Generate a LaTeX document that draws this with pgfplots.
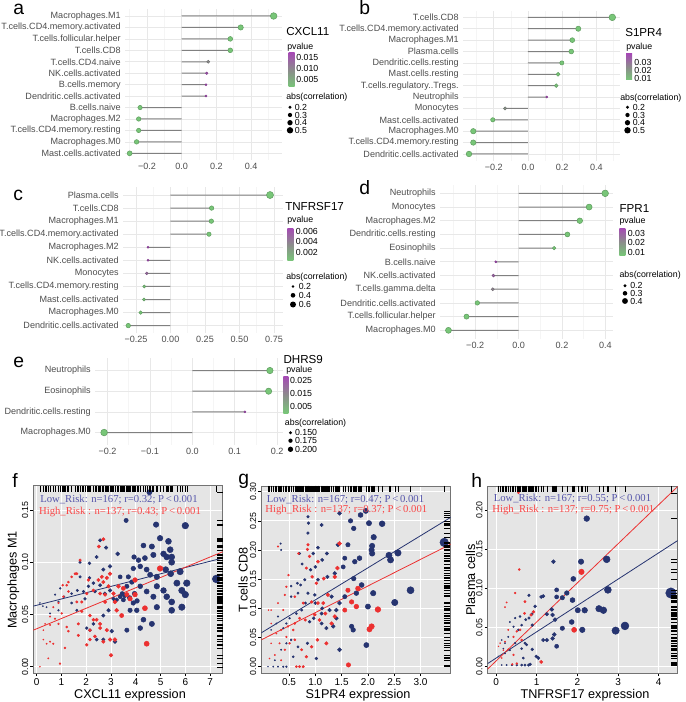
\documentclass[border=0pt]{standalone}
\usepackage{pgfplots}
\pgfplotsset{compat=1.18}
\usepackage{pgfplotstable}
\usepackage{fontspec}
\setmainfont{Liberation Sans}
\newfontfamily\tnr{Liberation Serif}

\definecolor{pgreen}{RGB}{120,198,120}
\definecolor{pgrey}{RGB}{140,140,140}
\definecolor{ppurple}{RGB}{165,75,180}
\definecolor{dnavy}{RGB}{38,52,112}
\definecolor{dred}{RGB}{236,48,48}
\definecolor{tblue}{RGB}{85,85,170}
\definecolor{tred}{RGB}{250,70,70}
\definecolor{labgrey}{RGB}{77,77,77}
\definecolor{panelbg}{RGB}{229,229,229}

\newcommand{\lab}{\fontsize{6.8}{7.5}\selectfont}
\newcommand{\leg}{\fontsize{6.6}{7}\selectfont}
\newcommand{\gene}{\fontsize{8.7}{9}\selectfont}
\newcommand{\letf}{\fontsize{14.5}{15}\selectfont}
\newcommand{\axf}{\fontsize{9.5}{10}\selectfont}
\newcommand{\anf}{\tnr\fontsize{8}{9}\selectfont}

% lollipop tables: v = correlation, y = row (bottom = 1), c = colour (0 green .. 1 purple), s = dot radius (pt)
\pgfplotstableread{
v y c s
-0.300 1 0 1.85
-0.260 2 0 1.71
-0.248 3 0 1.66
-0.248 4 0 1.66
-0.240 5 0 1.62
0.140 6 1 0.75
0.140 7 1 0.75
0.144 8 0.95 0.92
0.153 9 0.5 1.06
0.280 10 0 1.78
0.280 11 0 1.78
0.340 12 0 1.99
0.530 13 0 2.48
}\tA
\pgfplotstableread{
v y c s
-0.345 1 0 2.10
-0.320 2 0 2.02
-0.320 3 0 2.02
-0.206 4 0 1.61
-0.134 5 0.45 1.18
0.110 6 1 0.75
0.165 7 0.05 1.40
0.176 8 0 1.46
0.198 9 0 1.57
0.253 10 0 1.80
0.259 11 0 1.82
0.294 12 0 1.94
0.493 13 0 2.48
}\tB
\pgfplotstableread{
v y c s
-0.306 1 0 1.70
-0.216 2 0 1.33
-0.192 3 0.05 1.17
-0.190 4 0.05 1.16
-0.172 5 0.75 0.99
-0.163 6 1 0.75
-0.163 7 1 0.75
0.279 8 0 1.61
0.296 9 0 1.67
0.298 10 0 1.67
0.721 11 0 2.63
}\tC
\pgfplotstableread{
v y c s
-0.323 1 0 2.24
-0.240 2 0 1.92
-0.190 3 0 1.68
-0.119 4 0.55 1.10
-0.116 5 0.8 1.08
-0.105 6 1 0.75
0.164 7 0 1.30
0.225 8 0 1.85
0.282 9 0 2.09
0.325 10 0 2.24
0.399 11 0 2.48
}\tD
\pgfplotstableread{
v y c s
-0.208 1 0 2.50
0.124 2 1 0.75
0.180 3 0 2.35
0.183 4 0 2.40
}\tE

% scatter tables
\pgfplotstableread{
x y
4.55 0.167
3.61 0.140
4.82 0.136
6.00 0.135
2.56 0.121
2.80 0.114
3.27 0.108
4.31 0.116
4.65 0.115
4.98 0.123
5.32 0.120
5.39 0.112
3.93 0.105
4.11 0.102
4.37 0.104
4.71 0.107
5.12 0.108
5.25 0.105
5.45 0.105
5.45 0.100
1.75 0.100
2.13 0.099
2.42 0.105
2.69 0.093
2.96 0.096
3.37 0.086
3.70 0.086
3.90 0.094
4.18 0.096
4.44 0.093
4.58 0.088
4.85 0.086
5.21 0.093
5.41 0.089
5.79 0.091
5.66 0.080
6.06 0.080
5.86 0.073
6.00 0.069
7.25 0.084
4.85 0.077
5.12 0.073
5.25 0.067
4.71 0.067
4.44 0.072
4.18 0.077
3.84 0.081
3.64 0.077
3.37 0.067
3.50 0.064
3.23 0.064
3.10 0.065
2.96 0.073
2.56 0.078
2.29 0.080
2.09 0.077
1.89 0.072
1.64 0.073
1.41 0.070
1.10 0.067
0.74 0.069
0.88 0.062
1.41 0.061
1.62 0.054
0.88 0.054
3.90 0.061
3.77 0.054
4.04 0.054
4.31 0.045
4.65 0.041
4.18 0.037
3.64 0.035
3.03 0.034
3.16 0.024
2.42 0.026
2.69 0.026
2.29 0.041
2.02 0.037
2.15 0.035
2.69 0.049
2.90 0.054
4.85 0.057
5.45 0.054
5.45 0.062
5.86 0.057
0.40 0.057
0.54 0.051
0.13 0.061
1.75 0.086
2.13 0.085
3.45 0.070
3.55 0.068
3.75 0.066
3.95 0.070
4.05 0.063
2.75 0.070
2.35 0.072
1.95 0.065
0.95 0.075
0.25 0.058
}\fB
\pgfplotstableread{
x y
2.69 0.122
2.51 0.115
1.75 0.102
2.09 0.083
1.62 0.089
2.63 0.086
2.49 0.083
2.69 0.081
2.83 0.085
2.96 0.089
2.90 0.077
2.29 0.073
2.56 0.070
2.76 0.069
3.10 0.070
3.30 0.077
3.16 0.062
2.76 0.062
2.02 0.070
1.82 0.062
1.62 0.062
1.28 0.072
1.21 0.078
1.05 0.078
1.28 0.081
1.41 0.086
1.55 0.089
1.08 0.067
0.88 0.061
0.67 0.057
1.01 0.051
0.74 0.046
0.54 0.048
0.34 0.041
0.27 0.035
0.27 0.026
0.54 0.024
0.67 0.022
0.47 0.008
0.13 0.000
0.94 0.003
1.14 0.018
1.21 0.038
1.28 0.034
1.68 0.030
1.68 0.041
1.82 0.053
2.15 0.049
2.29 0.045
2.42 0.045
2.56 0.041
2.15 0.035
2.35 0.029
2.56 0.037
2.83 0.035
2.96 0.026
2.69 0.024
3.16 0.026
3.00 0.011
2.15 0.026
2.02 0.021
4.44 0.022
4.37 0.056
3.97 0.069
3.77 0.065
3.64 0.069
3.50 0.075
4.98 0.094
3.97 0.083
3.23 0.054
3.43 0.049
0.54 0.040
0.88 0.041
0.40 0.022
}\fR
\pgfplotstableread{
x y
1.96 0.267
1.86 0.260
1.46 0.263
1.67 0.250
2.02 0.246
2.27 0.245
1.73 0.237
1.12 0.243
0.87 0.246
0.86 0.229
2.11 0.222
3.45 0.213
2.08 0.207
1.62 0.209
1.43 0.209
1.05 0.204
1.22 0.194
0.96 0.194
1.13 0.183
1.00 0.171
0.91 0.166
0.75 0.176
0.70 0.194
1.56 0.186
1.84 0.186
1.75 0.180
1.53 0.171
1.37 0.160
1.23 0.154
1.05 0.149
0.80 0.149
0.66 0.143
2.07 0.200
2.08 0.194
2.40 0.191
2.43 0.183
2.57 0.195
1.73 0.151
1.88 0.140
1.78 0.126
2.10 0.126
2.81 0.131
2.51 0.110
2.00 0.103
1.56 0.120
1.46 0.109
1.31 0.120
0.99 0.123
0.86 0.126
0.72 0.140
0.67 0.126
0.54 0.120
1.13 0.100
1.27 0.097
1.40 0.097
1.12 0.091
1.00 0.109
0.81 0.109
0.74 0.097
0.64 0.091
0.51 0.083
0.45 0.074
0.39 0.066
0.26 0.074
0.16 0.063
0.29 0.086
1.12 0.074
1.21 0.066
1.34 0.069
1.40 0.083
1.69 0.069
1.72 0.063
1.46 0.029
1.97 0.037
1.02 0.014
0.85 0.040
0.67 0.034
0.54 0.046
0.45 0.040
0.58 0.017
0.39 0.000
0.29 0.000
0.20 0.000
0.10 0.000
0.45 0.000
0.23 0.011
0.35 0.029
0.89 0.077
0.97 0.083
0.35 0.200
0.34 0.211
0.54 0.138
0.86 0.257
}\gB
\pgfplotstableread{
x y
0.86 0.209
1.46 0.211
0.85 0.201
0.68 0.194
0.89 0.189
1.05 0.180
0.49 0.157
0.83 0.169
0.94 0.154
1.16 0.151
1.02 0.143
1.37 0.154
1.42 0.169
1.62 0.131
1.81 0.134
1.69 0.111
1.56 0.097
1.78 0.103
2.19 0.098
2.07 0.069
2.03 0.064
1.63 0.003
1.24 0.123
1.15 0.109
1.05 0.109
0.93 0.111
0.77 0.109
0.61 0.120
0.45 0.137
0.42 0.123
0.39 0.097
0.29 0.109
0.16 0.097
0.16 0.074
0.26 0.057
0.35 0.063
0.48 0.069
0.61 0.074
0.70 0.083
0.81 0.080
0.99 0.089
1.08 0.080
1.19 0.091
1.37 0.086
1.31 0.074
1.21 0.040
1.04 0.046
0.93 0.034
0.83 0.017
0.74 0.029
0.64 0.000
0.70 0.000
0.77 0.000
0.61 0.046
0.51 0.040
0.42 0.029
0.32 0.040
0.23 0.020
0.13 0.014
0.35 0.011
0.45 0.051
0.58 0.063
0.16 0.040
0.29 0.206
0.11 0.097
}\gR
\pgfplotstableread{
x y
2.23 0.189
1.41 0.134
2.09 0.134
2.72 0.137
1.90 0.112
2.75 0.098
4.30 0.094
1.49 0.098
1.49 0.089
1.74 0.094
1.63 0.088
1.88 0.085
0.81 0.091
1.11 0.089
1.16 0.090
0.96 0.077
2.01 0.072
2.18 0.072
2.53 0.074
2.64 0.072
1.37 0.073
1.39 0.066
1.45 0.060
1.25 0.067
0.88 0.067
0.81 0.062
0.73 0.060
0.59 0.064
0.47 0.062
0.34 0.057
0.43 0.051
0.63 0.053
0.89 0.053
1.63 0.049
1.86 0.057
2.12 0.047
2.94 0.046
3.17 0.052
1.39 0.036
1.43 0.041
1.49 0.026
1.25 0.034
1.16 0.034
0.89 0.022
0.99 0.013
1.04 0.011
0.71 0.030
0.63 0.023
0.47 0.030
0.34 0.021
0.22 0.030
0.22 0.017
0.18 0.023
0.14 0.034
0.30 0.038
0.06 0.013
0.55 0.047
0.14 0.002
0.26 0.002
0.39 0.002
0.51 0.002
0.63 0.002
0.71 0.002
0.80 0.002
0.84 0.003
0.67 0.011
0.75 0.028
}\hB
\pgfplotstableread{
x y
2.10 0.121
0.57 0.124
0.47 0.094
0.26 0.082
0.22 0.076
0.71 0.083
0.92 0.070
0.86 0.066
0.70 0.068
0.59 0.047
0.51 0.045
0.43 0.038
0.30 0.047
0.22 0.032
0.10 0.030
0.18 0.021
0.30 0.022
0.43 0.015
0.51 0.004
0.40 0.003
0.63 0.034
1.92 0.047
1.11 0.006
0.55 0.222
0.06 0.026
0.14 0.011
}\hR

\pgfplotsset{
  lolli/.style={
    scale only axis, anchor=south west,
    axis line style={draw=none},
    major tick length=0pt, minor tick length=0pt,
    grid=both,
    major grid style={draw=black!9, line width=0.55pt},
    minor grid style={draw=black!4, line width=0.45pt},
    tick label style={font=\lab, text=labgrey},
    yticklabel style={inner sep=1pt, xshift=-2pt},
    xticklabel style={inner sep=2.2pt},
    colormap={pv}{rgb255=(120,198,120) rgb255=(140,140,140) rgb255=(165,75,180)},
    point meta min=0, point meta max=1,
  },
  stem/.style={xbar, bar width=0.75pt, fill=black!50, draw=none},
  dots/.style={scatter, only marks, mark=*, point meta=\thisrow{c},
    visualization depends on={\thisrow{s} \as \ms},
    scatter/@pre marker code/.append style={/tikz/mark size=\ms}},
  scat/.style={
    scale only axis, anchor=south west,
    axis background/.style={fill=panelbg},
    grid=major, major grid style={draw=white, line width=0.7pt},
    tick align=outside, tick pos=left,
    major tick length=2.2pt,
    tick style={black, line width=0.4pt},
    axis line style={draw=black!55, line width=0.4pt},
    xticklabel style={font=\fontsize{7.5}{8}\selectfont, inner sep=1.5pt},
    yticklabel style={font=\fontsize{6.6}{7}\selectfont, rotate=90, anchor=south, inner sep=1.5pt},
  },
  pts/.style={scatter, only marks, mark=*, scatter/use mapped color={draw=#1, fill=#1},
    visualization depends on={\thisrow{x} \as \xv}},
  rug/.style={only marks, mark=#1, mark size=2.25pt, black, mark options={line width=0.25pt}},
}

\begin{document}
\begin{tikzpicture}
\useasboundingbox (0,0) rectangle (513.75pt,-526.5pt);

% ---- a: CXCL11
\begin{axis}[lolli, at={(93.75pt,-120.15pt)}, width=117.75pt, height=113.3pt,
  xmin=-0.3268, xmax=0.5781, ymin=0.4, ymax=13.6,
  xtick={-0.2,0,0.2,0.4}, xticklabels={−0.2,0.0,0.2,0.4},
  minor xtick={-0.3,-0.1,0.1,0.3,0.5},
  ytick={1,...,13},
  yticklabels={Mast.cells.activated,Macrophages.M0,T.cells.CD4.memory.resting,Macrophages.M2,B.cells.naive,Dendritic.cells.activated,B.cells.memory,NK.cells.activated,T.cells.CD4.naive,T.cells.CD8,T.cells.follicular.helper,T.cells.CD4.memory.activated,Macrophages.M1}]
\addplot[stem] table[x=v,y=y]{\tA};
\addplot[dots] table[x=v,y=y]{\tA};
\end{axis}

% ---- b: S1PR4
\begin{axis}[lolli, at={(347.25pt,-120.6pt)}, width=117.75pt, height=112.7pt,
  xmin=-0.380, xmax=0.538, ymin=0.4, ymax=13.6,
  xtick={-0.2,0,0.2,0.4}, xticklabels={−0.2,0.0,0.2,0.4},
  minor xtick={-0.3,-0.1,0.1,0.3,0.5},
  ytick={1,...,13},
  yticklabels={Dendritic.cells.activated,T.cells.CD4.memory.resting,Macrophages.M0,Mast.cells.activated,Monocytes,Neutrophils,T.cells.regulatory..Tregs.,Mast.cells.resting,Dendritic.cells.resting,Plasma.cells,Macrophages.M1,T.cells.CD4.memory.activated,T.cells.CD8}]
\addplot[stem] table[x=v,y=y]{\tB};
\addplot[dots] table[x=v,y=y]{\tB};
\end{axis}

% ---- c: TNFRSF17
\begin{axis}[lolli, at={(92.25pt,-250.1pt)}, width=120pt, height=109.7pt,
  xmin=-0.344, xmax=0.815, ymin=0.4, ymax=11.6,
  xtick={-0.25,0,0.25,0.5,0.75}, xticklabels={−0.25,0.00,0.25,0.50,0.75},
  minor xtick={-0.125,0.125,0.375,0.625},
  ytick={1,...,11},
  yticklabels={Dendritic.cells.activated,Macrophages.M0,Mast.cells.activated,T.cells.CD4.memory.resting,Monocytes,NK.cells.activated,Macrophages.M2,T.cells.CD4.memory.activated,Macrophages.M1,T.cells.CD8,Plasma.cells}]
\addplot[stem] table[x=v,y=y]{\tC};
\addplot[dots] table[x=v,y=y]{\tC};
\end{axis}

% ---- d: FPR1
\begin{axis}[lolli, at={(330pt,-253.9pt)}, width=129.75pt, height=115.05pt,
  xmin=-0.362, xmax=0.435, ymin=0.4, ymax=11.6,
  xtick={-0.2,0,0.2,0.4}, xticklabels={−0.2,0.0,0.2,0.4},
  minor xtick={-0.3,-0.1,0.1,0.3},
  ytick={1,...,11},
  yticklabels={Macrophages.M0,T.cells.follicular.helper,Dendritic.cells.activated,T.cells.gamma.delta,NK.cells.activated,B.cells.naive,Eosinophils,Dendritic.cells.resting,Macrophages.M2,Monocytes,Neutrophils}]
\addplot[stem] table[x=v,y=y]{\tD};
\addplot[dots] table[x=v,y=y]{\tD};
\end{axis}

% ---- e: DHRS9
\begin{axis}[lolli, at={(71.25pt,-333.7pt)}, width=141pt, height=65.1pt,
  xmin=-0.2295, xmax=0.2139, ymin=0.4, ymax=4.6,
  xtick={-0.2,-0.1,0,0.1,0.2}, xticklabels={−0.2,−0.1,0.0,0.1,0.2},
  minor xtick={-0.15,-0.05,0.05,0.15},
  ytick={1,...,4},
  yticklabels={Macrophages.M0,Dendritic.cells.resting,Eosinophils,Neutrophils}]
\addplot[stem] table[x=v,y=y]{\tE};
\addplot[dots] table[x=v,y=y]{\tE};
\end{axis}

% ---- f: CXCL11 vs Macrophages M1
\begin{axis}[scat, at={(24.98pt,-504.98pt)}, width=142.05pt, height=141.23pt,
  xmin=-0.137, xmax=7.51, ymin=-0.0063, ymax=0.1739,
  xtick={0,1,...,7}, xticklabels={0,1,2,3,4,5,6,7},
  ytick={0,0.05,0.1,0.15}, yticklabels={0.00,0.05,0.10,0.15}]
\addplot[pts=dnavy, scatter/@pre marker code/.append style={/tikz/mark size={0.3+0.36*\xv}}] table{\fB};
\addplot[pts=dred, scatter/@pre marker code/.append style={/tikz/mark size={0.3+0.36*\xv}}] table{\fR};
\addplot[dnavy, line width=0.6pt] coordinates {(-0.137,0.058) (7.51,0.104)};
\addplot[dred, line width=0.6pt] coordinates {(-0.137,0.035) (7.51,0.110)};
\addplot[rug=|] table[x=x, y expr=0.1701]{\fB};
\addplot[rug=|] table[x=x, y expr=0.1701]{\fR};
\addplot[rug=-] table[x expr=7.383, y=y]{\fB};
\addplot[rug=-] table[x expr=7.383, y=y]{\fR};
\end{axis}

% ---- g: S1PR4 vs T cells CD8
\begin{axis}[scat, at={(195.98pt,-504.98pt)}, width=142.05pt, height=140.48pt,
  xmin=-0.027, xmax=3.574, ymin=-0.0114, ymax=0.3097,
  xtick={0.5,1,1.5,2,2.5,3}, xticklabels={0.5,1.0,1.5,2.0,2.5,3.0},
  ytick={0,0.05,0.1,0.15,0.2,0.25,0.3}, yticklabels={0.00,0.05,0.10,0.15,0.20,0.25,0.30}]
\addplot[pts=dnavy, scatter/@pre marker code/.append style={/tikz/mark size={0.25+0.85*\xv}}] table{\gB};
\addplot[pts=dred, scatter/@pre marker code/.append style={/tikz/mark size={0.25+0.85*\xv}}] table{\gR};
\addplot[dnavy, line width=0.6pt] coordinates {(-0.027,0.058) (3.574,0.256)};
\addplot[dred, line width=0.6pt] coordinates {(-0.027,0.046) (3.574,0.210)};
\addplot[rug=|] table[x=x, y expr=0.3046]{\gB};
\addplot[rug=|] table[x=x, y expr=0.3046]{\gR};
\addplot[rug=-] table[x expr=3.498, y=y]{\gB};
\addplot[rug=-] table[x expr=3.498, y=y]{\gR};
\end{axis}

% ---- h: TNFRSF17 vs Plasma cells
\begin{axis}[scat, at={(365.78pt,-504.98pt)}, width=142.5pt, height=140.48pt,
  xmin=-0.205, xmax=4.467, ymin=-0.0085, ymax=0.2306,
  xtick={0,1,2,3,4}, xticklabels={0,1,2,3,4},
  ytick={0,0.05,0.1,0.15,0.2}, yticklabels={0.00,0.05,0.10,0.15,0.20}]
\addplot[pts=dnavy, scatter/@pre marker code/.append style={/tikz/mark size={0.25+0.85*\xv}}] table{\hB};
\addplot[pts=dred, scatter/@pre marker code/.append style={/tikz/mark size={0.25+0.85*\xv}}] table{\hR};
\addplot[dnavy, line width=0.6pt] coordinates {(-0.205,0.004) (4.467,0.161)};
\addplot[dred, line width=0.6pt] coordinates {(-0.205,-0.003) (4.467,0.230)};
\addplot[rug=|] table[x=x, y expr=0.2268]{\hB};
\addplot[rug=|] table[x=x, y expr=0.2268]{\hR};
\addplot[rug=-] table[x expr=4.369, y=y]{\hB};
\addplot[rug=-] table[x expr=4.369, y=y]{\hR};
\end{axis}

\begin{scope}[x=0.75pt, y=-0.75pt, every node/.append style={inner sep=0pt}]
% panel letters
\node[anchor=base west, font=\letf] at (13,15) {a};
\node[anchor=base west, font=\letf] at (359,15) {b};
\node[anchor=base west, font=\letf] at (13,200) {c};
\node[anchor=base west, font=\letf] at (359,195) {d};
\node[anchor=base west, font=\letf] at (13,367) {e};
\node[anchor=base west, font=\letf] at (12,487) {f};
\node[anchor=base west, font=\letf] at (238,484) {g};
\node[anchor=base west, font=\letf] at (471,487) {h};

% legend a
\node[anchor=west, font=\gene] at (286,32) {CXCL11};
\node[anchor=west, font=\leg] at (287,47) {pvalue};
\shade[top color=ppurple, bottom color=pgreen, middle color=pgrey] (288.7,53) rectangle (294.7,87);
\node[anchor=west, font=\leg] at (296,57.3) {0.015};
\node[anchor=west, font=\leg] at (296,68.3) {0.010};
\node[anchor=west, font=\leg] at (296,79) {0.005};
\node[anchor=west, font=\leg] at (286,97.3) {abs(correlation)};
\fill (290,107.3) circle[radius=1.25pt]; \node[anchor=west, font=\leg] at (294.5,107.3) {0.2};
\fill (290,115) circle[radius=1.6pt]; \node[anchor=west, font=\leg] at (294.5,115) {0.3};
\fill (290,122.7) circle[radius=2.0pt]; \node[anchor=west, font=\leg] at (294.5,122.7) {0.4};
\fill (290,130.3) circle[radius=2.4pt]; \node[anchor=west, font=\leg] at (294.5,130.3) {0.5};

% legend b
\node[anchor=west, font=\gene] at (625,33) {S1PR4};
\node[anchor=west, font=\leg] at (626,47.7) {pvalue};
\shade[top color=ppurple, bottom color=pgreen, middle color=pgrey] (626,54) rectangle (632,80);
\node[anchor=west, font=\leg] at (634,62) {0.03};
\node[anchor=west, font=\leg] at (634,70) {0.02};
\node[anchor=west, font=\leg] at (634,78) {0.01};
\node[anchor=west, font=\leg] at (620,98.3) {abs(correlation)};
\fill (627.5,107.3) circle[radius=1.25pt]; \node[anchor=west, font=\leg] at (632.5,107.3) {0.2};
\fill (627.5,115) circle[radius=1.6pt]; \node[anchor=west, font=\leg] at (632.5,115) {0.3};
\fill (627.5,122.7) circle[radius=2.0pt]; \node[anchor=west, font=\leg] at (632.5,122.7) {0.4};
\fill (627.5,130.3) circle[radius=2.4pt]; \node[anchor=west, font=\leg] at (632.5,130.3) {0.5};

% legend c
\node[anchor=west, font=\gene] at (285,206.7) {TNFRSF17};
\node[anchor=west, font=\leg] at (287,220) {pvalue};
\shade[top color=ppurple, bottom color=pgreen, middle color=pgrey] (287.3,228.3) rectangle (293.3,260.7);
\node[anchor=west, font=\leg] at (295.5,231.7) {0.006};
\node[anchor=west, font=\leg] at (295.5,241.7) {0.004};
\node[anchor=west, font=\leg] at (295.5,252.3) {0.002};
\node[anchor=west, font=\leg] at (286,277.5) {abs(correlation)};
\fill (293,286.5) circle[radius=1.0pt]; \node[anchor=west, font=\leg] at (298.5,286.5) {0.2};
\fill (293,295.3) circle[radius=1.75pt]; \node[anchor=west, font=\leg] at (298.5,295.3) {0.4};
\fill (293,304.5) circle[radius=2.25pt]; \node[anchor=west, font=\leg] at (298.5,304.5) {0.6};

% legend d
\node[anchor=west, font=\gene] at (619.3,208.3) {FPR1};
\node[anchor=west, font=\leg] at (619.3,221) {pvalue};
\shade[top color=ppurple, bottom color=pgreen, middle color=pgrey] (619.3,228.3) rectangle (625.3,255);
\node[anchor=west, font=\leg] at (627.5,233.3) {0.03};
\node[anchor=west, font=\leg] at (627.5,242.7) {0.02};
\node[anchor=west, font=\leg] at (627.5,252.7) {0.01};
\node[anchor=west, font=\leg] at (619.3,275.5) {abs(correlation)};
\fill (625,285.7) circle[radius=1.2pt]; \node[anchor=west, font=\leg] at (630,285.7) {0.2};
\fill (625,293.3) circle[radius=1.7pt]; \node[anchor=west, font=\leg] at (630,293.3) {0.3};
\fill (625,301) circle[radius=2.2pt]; \node[anchor=west, font=\leg] at (630,301) {0.4};

% legend e
\node[anchor=west, font=\gene] at (283.3,360) {DHRS9};
\node[anchor=west, font=\leg] at (286,370) {pvalue};
\shade[top color=ppurple, bottom color=pgreen, middle color=pgrey] (283.3,376.7) rectangle (288.3,413);
\node[anchor=west, font=\leg] at (289.8,380) {0.025};
\node[anchor=west, font=\leg] at (289.8,393.3) {0.015};
\node[anchor=west, font=\leg] at (289.8,406.7) {0.005};
\node[anchor=west, font=\leg] at (284.7,423.3) {abs(correlation)};
\fill (290.5,432.7) circle[radius=1.25pt]; \node[anchor=west, font=\leg] at (294.8,432.7) {0.150};
\fill (290.5,440.7) circle[radius=1.6pt]; \node[anchor=west, font=\leg] at (294.8,440.7) {0.175};
\fill (290.5,449.3) circle[radius=2.0pt]; \node[anchor=west, font=\leg] at (294.8,449.3) {0.200};

% scatter annotations
\node[font=\anf, text=tblue] at (119,500) {Low\_Risk: n=167; r=0.32; P\,<\,0.001};
\node[font=\anf, text=tred] at (120,511.7) {High\_Risk : n=137; r=0.43; P\,<\,0.001};
\node[font=\anf, text=tblue] at (345.5,499.3) {Low\_Risk: n=167; r=0.47; P\,<\,0.001};
\node[font=\anf, text=tred] at (346.3,510) {High\_Risk : n=137; r=0.37; P\,<\,0.001};
\node[font=\anf, text=tblue] at (572.5,499) {Low\_Risk: n=167; r=0.55; P\,<\,0.001};
\node[font=\anf, text=tred] at (573.3,510) {High\_Risk : n=137; r=0.75; P\,<\,0.001};

% scatter axis labels
\node[rotate=90, font=\axf] at (13.3,580) {Macrophages M1};
\node[font=\axf] at (130,695) {CXCL11 expression};
\node[rotate=90, font=\axf] at (243,580) {T cells CD8};
\node[font=\axf] at (358,695) {S1PR4 expression};
\node[rotate=90, font=\axf] at (470.5,580) {Plasma cells};
\node[font=\axf] at (585,695) {TNFRSF17 expression};
\end{scope}
\end{tikzpicture}
\end{document}
